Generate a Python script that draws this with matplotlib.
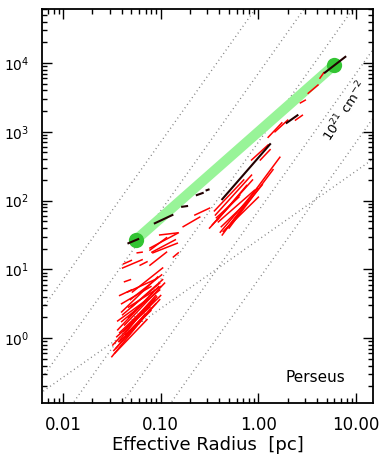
import numpy as np
import matplotlib
matplotlib.use("Agg")
import matplotlib.pyplot as plt
from matplotlib.ticker import FixedLocator, FixedFormatter, LogLocator, NullFormatter

plt.rcParams['font.family'] = ['DejaVu Sans']
plt.rcParams['mathtext.fontset'] = 'dejavusans'

# ---- data (log10 radius [pc], log10 mass [Msun]) ----
# red dendrogram branches: start and end points
red_lr0 = [-1.50, -1.47, -1.49, -1.45, -1.44, -1.42, -1.40, -1.39, -1.40, -1.35, -1.37, -1.34,
           -1.29, -1.37, -1.39, -1.24, -1.11, -1.11, -0.87, -1.08, -1.01, -1.21, -1.31,
           -1.46, -1.43, -1.38, -1.33, -1.30,
           -1.48, -1.42, -1.36, -1.44, -1.40, -1.33, -1.30, -1.42, -1.38,
           -0.77, -1.11, -1.09, -0.65,
           -0.44, -0.47, -0.39, -0.37, -0.07, 0.10, -0.41, -0.34, -0.50, 0.02, 0.38, 0.43,
           0.51, 0.63, 0.17, -0.45, -0.42, -0.43, -0.38, -0.36, -0.30]
red_lm0 = [-0.27, -0.22, -0.10, 0.02, 0.12, 0.08, 0.24, 0.34, 0.38, 0.02, 0.19, 0.67,
           0.67, 0.82, 1.02, 1.24, 1.06, 1.28, 1.18, 1.24, 1.50, 1.06, 0.56,
           -0.15, -0.05, 0.10, 0.30, 0.45,
           -0.18, -0.05, 0.05, 0.25, 0.50, 0.45, 0.20, 0.62, 1.08,
           1.62, 1.31, 1.25, 1.79,
           1.79, 1.65, 1.54, 1.50, 2.59, 2.92, 1.69, 1.57, 1.60, 2.59, 3.17, 3.42,
           3.56, 3.78, 3.00, 1.85, 1.72, 1.75, 1.62, 1.55, 1.60]
red_lr1 = [-1.11, -1.14, -1.06, -1.11, -1.08, -1.04, -1.01, -1.01, -1.03, -1.01, -0.96, -1.06,
           -0.98, -1.31, -1.19, -1.19, -0.94, -0.94, -0.82, -0.83, -0.83, -1.14, -0.99,
           -1.16, -1.12, -1.05, -1.02, -0.98,
           -1.20, -1.10, -1.05, -1.15, -1.10, -1.00, -1.00, -1.30, -1.30,
           -0.60, -0.82, -0.85, -0.50,
           -0.07, -0.06, -0.01, 0.22, 0.10, 0.24, -0.04, 0.04, -0.19, 0.12, 0.45, 0.48,
           0.61, 0.67, 0.30, -0.15, -0.12, -0.20, -0.10, 0.00, 0.15]
red_lm1 = [0.41, 0.27, 0.56, 0.45, 0.66, 0.60, 0.70, 0.80, 0.89, 0.56, 0.80, 0.85,
           1.02, 0.85, 1.14, 1.25, 1.25, 1.46, 1.24, 1.38, 1.53, 1.11, 0.92,
           0.35, 0.50, 0.62, 0.75, 0.85,
           0.25, 0.40, 0.50, 0.55, 0.75, 0.75, 0.62, 0.70, 1.13,
           1.76, 1.53, 1.43, 1.89,
           2.37, 2.30, 2.18, 2.63, 2.81, 3.13, 2.15, 2.23, 2.08, 2.74, 3.24, 3.46,
           3.68, 3.86, 3.17, 2.30, 2.22, 2.05, 2.00, 2.05, 2.45]

# black (cloud-scale) pieces
blk_lr0 = [-1.33, -1.06, -0.78, -0.63, -0.53, -0.37, 0.29, 0.68]
blk_lm0 = [1.38, 1.67, 1.91, 2.08, 2.15, 2.02, 3.13, 3.86]
blk_lr1 = [-1.23, -0.88, -0.73, -0.57, -0.51, 0.12, 0.40, 0.89]
blk_lm1 = [1.44, 1.79, 1.92, 2.11, 2.16, 2.82, 3.24, 4.09]

# green summary relation (end points)
green_r = [0.056, 6.0]
green_m = [27.0, 9400.0]

# reference lines: constant column density (slope 2) and slope-1 line
col_dens_exp = [20, 21, 22, 23, 24]           # log10 N(H2) [cm^-2]
col_dens_intercept = [0.85, 1.85, 2.85, 3.85, 4.85]  # log10 M at R = 1 pc
lin_intercept = [1.43]                          # slope-1 line, log10 M at 1 pc

xticks = [0.01, 0.1, 1.0, 10.0]
xticklabels = ['0.01', '0.10', '1.00', '10.00']
yticks = [1, 10, 100, 1000, 10000]
yticklabels = [r'$10^0$', r'$10^1$', r'$10^2$', r'$10^3$', r'$10^4$']

# ---- figure ----
fig = plt.figure(figsize=(3.83, 4.55), dpi=100)
ax = fig.add_axes([42/383, 1-403/455, (373-42)/383, (403-9)/455])
ax.set_xscale('log')
ax.set_yscale('log')
xlim = (0.0061, 14.9)
ylim = (0.114, 6.1e4)

rr = np.logspace(-3, 2, 200)
for c in col_dens_intercept:
    ax.plot(rr, 10**c * rr**2, ls=(0, (0.7, 2.3)), color='#808080', lw=1.0, zorder=1)
for c in lin_intercept:
    ax.plot(rr, 10**c * rr, ls=(0, (0.7, 2.3)), color='#808080', lw=1.0, zorder=1)

ax.plot(green_r, green_m, color='#98f498', lw=7.3, solid_capstyle='butt', zorder=2)
ax.plot(green_r, green_m, 'o', color='#33c433', ms=11, mec='none', zorder=3)

for a, b, c, d in zip(red_lr0, red_lm0, red_lr1, red_lm1):
    ax.plot([10**a, 10**c], [10**b, 10**d], color='#ff0000', lw=1.1, zorder=4)
for a, b, c, d in zip(blk_lr0, blk_lm0, blk_lr1, blk_lm1):
    ax.plot([10**a, 10**c], [10**b, 10**d], color='#220000', lw=1.5, zorder=5)

ax.set_xlim(*xlim)
ax.set_ylim(*ylim)

ax.xaxis.set_major_locator(FixedLocator(xticks))
ax.xaxis.set_major_formatter(FixedFormatter(xticklabels))
ax.xaxis.set_minor_locator(LogLocator(base=10, subs=np.arange(2, 10)))
ax.xaxis.set_minor_formatter(NullFormatter())
ax.yaxis.set_major_locator(FixedLocator(yticks))
ax.yaxis.set_major_formatter(FixedFormatter(yticklabels))
ax.yaxis.set_minor_locator(LogLocator(base=10, subs=np.arange(2, 10)))
ax.yaxis.set_minor_formatter(NullFormatter())
ax.tick_params(which='both', direction='in', top=True, right=True, width=1.0, color='black')
ax.tick_params(which='major', length=7)
ax.tick_params(axis='x', which='major', labelsize=12, pad=9)
ax.tick_params(axis='y', which='major', labelsize=10, pad=9)
ax.tick_params(which='minor', length=3.5)
for s in ax.spines.values():
    s.set_linewidth(1.3)

ax.set_xlabel('Effective Radius  [pc]', fontsize=13, labelpad=2)
ax.text(0.915, 0.065, 'Perseus', transform=ax.transAxes, ha='right', va='center', fontsize=11)
ax.text(0.915, 0.742, r'$10^{21}$ cm$^{-2}$', transform=ax.transAxes, ha='center', va='center',
        fontsize=9.5, rotation=57)

fig.savefig('out.png', dpi=100)
